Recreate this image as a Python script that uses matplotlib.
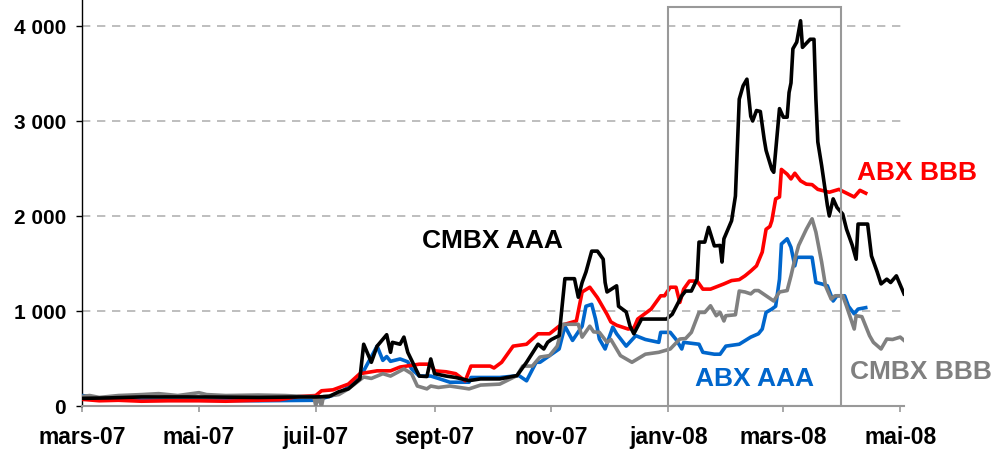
"""Spreads ABX / CMBX, mars 2007 - mai 2008."""
import matplotlib
matplotlib.use("Agg")
import matplotlib.pyplot as plt
import matplotlib.dates as mdates
from matplotlib.patches import Rectangle
from matplotlib.ticker import FuncFormatter
import numpy as np

# ---- data (bp) ----
abx_bbb_dates = [
    "2007-03-01", "2007-03-10", "2007-03-20", "2007-04-01", "2007-04-15", "2007-05-01",
    "2007-05-15", "2007-06-01", "2007-06-12", "2007-06-22", "2007-07-01", "2007-07-04",
    "2007-07-10", "2007-07-18", "2007-07-24", "2007-08-02", "2007-08-09", "2007-08-14",
    "2007-08-24", "2007-08-30", "2007-09-01", "2007-09-07", "2007-09-12", "2007-09-17",
    "2007-09-20", "2007-09-30", "2007-10-02", "2007-10-06", "2007-10-12", "2007-10-19",
    "2007-10-25", "2007-10-31", "2007-11-05", "2007-11-08", "2007-11-14", "2007-11-17",
    "2007-11-21", "2007-11-25", "2007-11-30", "2007-12-02", "2007-12-05", "2007-12-11",
    "2007-12-14", "2007-12-16", "2007-12-23", "2007-12-28", "2007-12-30", "2008-01-02",
    "2008-01-05", "2008-01-07", "2008-01-09", "2008-01-12", "2008-01-16", "2008-01-19",
    "2008-01-23", "2008-01-30", "2008-02-03", "2008-02-07", "2008-02-10", "2008-02-13",
    "2008-02-16", "2008-02-19", "2008-02-21", "2008-02-23", "2008-02-24", "2008-02-26",
    "2008-02-28", "2008-02-29", "2008-03-03", "2008-03-05", "2008-03-07", "2008-03-10",
    "2008-03-13", "2008-03-16", "2008-03-19", "2008-03-21", "2008-03-25", "2008-03-30",
    "2008-04-01", "2008-04-04", "2008-04-07", "2008-04-10", "2008-04-13",
]
abx_bbb = [
    70, 55, 60, 50, 55, 55,
    50, 60, 65, 100, 110, 160,
    170, 230, 340, 370, 370, 410,
    440, 440, 370, 360, 340, 265,
    420, 420, 400, 460, 630, 650,
    760, 760, 840, 860, 895, 1200,
    1250, 1140, 965, 885, 850, 810,
    820, 915, 1020, 1160, 1160, 1250,
    1250, 1090, 1230, 1315, 1315, 1230,
    1230, 1285, 1320, 1330, 1370, 1420,
    1475, 1620, 1860, 1890, 1950, 2180,
    2200, 2490, 2440, 2390, 2450, 2370,
    2335, 2330, 2280, 2270, 2250, 2280,
    2260, 2230, 2200, 2270, 2240,
]

abx_aaa_dates = [
    "2007-03-01", "2007-03-05", "2007-03-10", "2007-04-01", "2007-05-01", "2007-06-01",
    "2007-07-01", "2007-07-08", "2007-07-13", "2007-07-18", "2007-07-26", "2007-08-02",
    "2007-08-05", "2007-08-07", "2007-08-09", "2007-08-14", "2007-08-18", "2007-08-20",
    "2007-08-24", "2007-08-30", "2007-09-03", "2007-09-09", "2007-09-19", "2007-09-20",
    "2007-10-05", "2007-10-15", "2007-10-19", "2007-10-24", "2007-10-26", "2007-10-31",
    "2007-11-05", "2007-11-08", "2007-11-12", "2007-11-17", "2007-11-19", "2007-11-22",
    "2007-11-24", "2007-11-26", "2007-11-29", "2007-12-03", "2007-12-05", "2007-12-10",
    "2007-12-15", "2007-12-20", "2007-12-27", "2007-12-28", "2008-01-02", "2008-01-05",
    "2008-01-08", "2008-01-09", "2008-01-17", "2008-01-19", "2008-01-25", "2008-01-28",
    "2008-01-31", "2008-02-07", "2008-02-13", "2008-02-17", "2008-02-19", "2008-02-21",
    "2008-02-24", "2008-02-26", "2008-02-28", "2008-02-29", "2008-03-03", "2008-03-05",
    "2008-03-07", "2008-03-08", "2008-03-16", "2008-03-18", "2008-03-21", "2008-03-24",
    "2008-03-27", "2008-03-29", "2008-04-02", "2008-04-04", "2008-04-07", "2008-04-09",
    "2008-04-13",
]
abx_aaa = [
    110, 100, 70, 60, 60, 55,
    60, 100, 130, 200, 370, 630,
    480, 520, 470, 495, 465, 390,
    315, 315, 290, 250, 250, 300,
    300, 320, 265, 460, 460, 530,
    600, 840, 690, 840, 1050, 1070,
    915, 705, 600, 830, 760, 630,
    740, 700, 670, 775, 775, 700,
    600, 670, 650, 565, 545, 545,
    630, 650, 725, 760, 810, 985,
    1020, 1050, 1335, 1705, 1760, 1670,
    1475, 1565, 1565, 1300, 1285, 1265,
    1105, 1160, 1160, 1050, 970, 1020,
    1035,
]

cmbx_aaa_dates = [
    "2007-03-01", "2007-03-15", "2007-04-01", "2007-05-01", "2007-06-01", "2007-06-22",
    "2007-07-01", "2007-07-08", "2007-07-13", "2007-07-18", "2007-07-24", "2007-07-26",
    "2007-07-30", "2007-08-02", "2007-08-07", "2007-08-09", "2007-08-10", "2007-08-14",
    "2007-08-16", "2007-08-18", "2007-08-21", "2007-08-24", "2007-08-28", "2007-08-30",
    "2007-09-01", "2007-09-07", "2007-09-12", "2007-09-19", "2007-09-25", "2007-10-05",
    "2007-10-14", "2007-10-19", "2007-10-25", "2007-10-28", "2007-10-30", "2007-11-01",
    "2007-11-05", "2007-11-08", "2007-11-13", "2007-11-15", "2007-11-17", "2007-11-19",
    "2007-11-22", "2007-11-25", "2007-11-28", "2007-11-29", "2007-11-30", "2007-12-05",
    "2007-12-06", "2007-12-10", "2007-12-12", "2007-12-14", "2007-12-18", "2007-12-31",
    "2008-01-03", "2008-01-08", "2008-01-10", "2008-01-13", "2008-01-16", "2008-01-17",
    "2008-01-20", "2008-01-22", "2008-01-25", "2008-01-28", "2008-01-29", "2008-01-30",
    "2008-02-03", "2008-02-05", "2008-02-07", "2008-02-09", "2008-02-11", "2008-02-13",
    "2008-02-14", "2008-02-16", "2008-02-18", "2008-02-20", "2008-02-21", "2008-02-24",
    "2008-02-25", "2008-02-28", "2008-03-01", "2008-03-03", "2008-03-04", "2008-03-05",
    "2008-03-06", "2008-03-08", "2008-03-10", "2008-03-11", "2008-03-15", "2008-03-17",
    "2008-03-18", "2008-03-19", "2008-03-21", "2008-03-24", "2008-03-25", "2008-03-27",
    "2008-03-29", "2008-04-01", "2008-04-03", "2008-04-06", "2008-04-08", "2008-04-09",
    "2008-04-14", "2008-04-16", "2008-04-19", "2008-04-21", "2008-04-24", "2008-04-26",
    "2008-04-29", "2008-05-03",
]
cmbx_aaa = [
    80, 85, 95, 95, 90, 95,
    95, 100, 150, 180, 285, 650,
    460, 630, 750, 565, 670, 650,
    725, 565, 440, 315, 310, 495,
    340, 315, 300, 267, 285, 285,
    320, 460, 650, 600, 670, 700,
    740, 1340, 1340, 1145, 1300, 1410,
    1630, 1630, 1545, 1300, 1200, 1265,
    1050, 990, 840, 760, 915, 915,
    965, 1160, 1210, 1210, 1335, 1725,
    1725, 1880, 1685, 1690, 1515, 1760,
    1950, 2210, 3230, 3370, 3440, 3050,
    3000, 3110, 3100, 2810, 2690, 2490,
    2460, 3130, 3040, 3040, 3300, 3400,
    3760, 3830, 4055, 3775, 3860, 3860,
    3230, 2780, 2530, 2110, 2000, 2180,
    2090, 2020, 1860, 1690, 1545, 1915,
    1915, 1580, 1410, 1285, 1335, 1300,
    1370, 1180,
]

cmbx_bbb_dates = [
    "2007-03-01", "2007-03-05", "2007-03-10", "2007-03-20", "2007-04-01", "2007-04-10",
    "2007-04-20", "2007-05-01", "2007-05-05", "2007-05-15", "2007-06-01", "2007-06-15",
    "2007-06-25", "2007-06-30", "2007-07-01", "2007-07-02", "2007-07-04", "2007-07-05",
    "2007-07-13", "2007-07-18", "2007-07-26", "2007-07-30", "2007-08-05", "2007-08-09",
    "2007-08-16", "2007-08-20", "2007-08-23", "2007-08-28", "2007-08-30", "2007-09-03",
    "2007-09-09", "2007-09-19", "2007-09-25", "2007-10-05", "2007-10-14", "2007-10-17",
    "2007-10-22", "2007-10-26", "2007-10-31", "2007-11-04", "2007-11-07", "2007-11-15",
    "2007-11-17", "2007-11-21", "2007-11-23", "2007-11-26", "2007-11-30", "2007-12-02",
    "2007-12-07", "2007-12-13", "2007-12-20", "2007-12-27", "2008-01-02", "2008-01-07",
    "2008-01-10", "2008-01-13", "2008-01-17", "2008-01-20", "2008-01-23", "2008-01-26",
    "2008-01-28", "2008-01-30", "2008-01-31", "2008-02-05", "2008-02-07", "2008-02-10",
    "2008-02-13", "2008-02-15", "2008-02-17", "2008-02-21", "2008-02-25", "2008-02-28",
    "2008-03-03", "2008-03-05", "2008-03-07", "2008-03-09", "2008-03-13", "2008-03-16",
    "2008-03-18", "2008-03-21", "2008-03-23", "2008-03-26", "2008-03-28", "2008-04-01",
    "2008-04-03", "2008-04-07", "2008-04-08", "2008-04-11", "2008-04-15", "2008-04-17",
    "2008-04-21", "2008-04-24", "2008-04-27", "2008-05-01", "2008-05-03",
]
cmbx_bbb = [
    100, 110, 90, 110, 120, 130,
    110, 140, 120, 110, 115, 110,
    100, 100, 0, 100, 0, 100,
    120, 180, 305, 290, 340, 315,
    390, 340, 210, 180, 210, 195,
    210, 180, 220, 230, 320, 420,
    420, 515, 530, 630, 860, 860,
    725, 840, 780, 775, 670, 700,
    530, 460, 545, 565, 600, 705,
    710, 775, 985, 985, 1055, 950,
    985, 895, 950, 960, 1210, 1200,
    1180, 1215, 1215, 1160, 1105, 1200,
    1215, 1370, 1545, 1690, 1860, 1970,
    1830, 1515, 1265, 1125, 1160, 1160,
    1050, 810, 950, 940, 740, 670,
    600, 705, 700, 725, 690,
]

month_ticks = ["2007-03-01", "2007-05-01", "2007-07-01", "2007-09-01", "2007-11-01",
               "2008-01-01", "2008-03-01", "2008-05-01"]
month_labels = ["mars-07", "mai-07", "juil-07", "sept-07", "nov-07",
                "janv-08", "mars-08", "mai-08"]
y_ticks = [0, 1000, 2000, 3000, 4000]

# highlighted window
box_start, box_end, box_top = "2008-01-01", "2008-03-31", 4200

RED = "#FF0000"
BLUE = "#0066CC"
GREY = "#808080"
BLACK = "#000000"


def d(values):
    return mdates.date2num(np.array(values, dtype="datetime64[D]"))


plt.rcParams["font.family"] = ["Liberation Sans", "DejaVu Sans"]
plt.rcParams["font.weight"] = "bold"

fig = plt.figure(figsize=(9.94, 4.52), dpi=100)
ax = fig.add_axes([0.0825, 0.0996, 0.827, 0.9004])

lw = 2.6
ax.plot(d(abx_aaa_dates), abx_aaa, color=BLUE, lw=lw, zorder=3)
ax.plot(d(abx_bbb_dates), abx_bbb, color=RED, lw=lw, zorder=3)
ax.plot(d(cmbx_bbb_dates), cmbx_bbb, color=GREY, lw=lw, zorder=4)
ax.plot(d(cmbx_aaa_dates), cmbx_aaa, color=BLACK, lw=lw, zorder=5)

x0, x1 = d([box_start, box_end])
ax.add_patch(Rectangle((x0, 0), x1 - x0, box_top, fill=False,
                       edgecolor="#999999", lw=1.5, zorder=6))

# grid
for y in y_ticks[1:]:
    ax.axhline(y, color="#B3B3B3", lw=1.2, dashes=(5, 4), zorder=1)

ax.set_xlim(d(["2007-03-01"])[0], d(["2008-05-03"])[0])
ax.set_ylim(0, 4284)

ax.set_xticks(d(month_ticks))
ax.set_xticklabels(month_labels)
ax.set_yticks(y_ticks)
ax.yaxis.set_major_formatter(FuncFormatter(lambda v, p: f"{int(v):,}".replace(",", " ")))

for side in ("top", "right"):
    ax.spines[side].set_visible(False)
ax.spines["left"].set_color("black")
ax.spines["left"].set_linewidth(1.0)
ax.spines["bottom"].set_color("#999999")
ax.spines["bottom"].set_linewidth(1.5)

ax.tick_params(axis="y", direction="out", length=4.5, width=1.0, pad=7,
               labelsize=15, colors="black")
ax.tick_params(axis="x", direction="out", length=4.5, width=1.2, pad=9,
               labelsize=16.5, color="#999999", labelcolor="black")
for lab in ax.get_xticklabels() + ax.get_yticklabels():
    lab.set_fontweight("bold")

# series labels
labels = [
    ("CMBX AAA", "2007-10-01", 1750, BLACK),
    ("ABX BBB", "2008-05-10", 2460, RED),
    ("ABX AAA", "2008-02-15", 295, BLUE),
    ("CMBX BBB", "2008-05-12", 363, GREY),
]
for text, day, val, col in labels:
    ax.text(d([day])[0], val, text, color=col, fontsize=19, fontweight="bold",
            ha="center", va="center", clip_on=False, zorder=7)

plt.savefig("out.png", dpi=100)
